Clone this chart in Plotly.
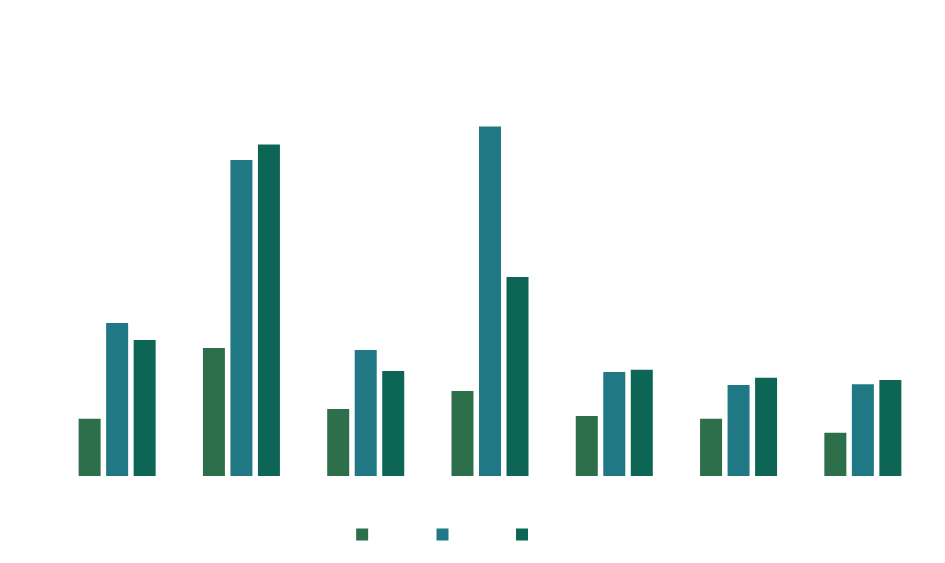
import plotly.graph_objects as go

categories = ["A", "B", "C", "D", "E", "F", "G"]
series_names = ["Type A", "Type B", "Type C"]
series_1 = [12.7, 28.4, 14.9, 18.9, 13.3, 12.7, 9.6]
series_2 = [34.0, 70.2, 28.0, 77.6, 23.1, 20.2, 20.4]
series_3 = [30.2, 73.6, 23.3, 44.2, 23.6, 21.8, 21.3]
colors = ["#2d6e4b", "#1f7884", "#0d6655"]

fig = go.Figure()
for name, vals, col in zip(series_names, [series_1, series_2, series_3], colors):
    fig.add_trace(go.Bar(x=categories, y=vals, name=name, marker_color=col,
                         marker_line_width=0))

fig.update_layout(
    width=945, height=563,
    paper_bgcolor="white", plot_bgcolor="white",
    barmode="group", bargap=0.336, bargroupgap=0.2,
    margin=dict(l=47, r=28, t=92, b=95),
    font=dict(family="Noto Sans", size=12, color="white"),
    title=dict(text="Chart", font=dict(color="white")),
    showlegend=True,
    legend=dict(orientation="h", x=0.468, xanchor="center", y=-0.117, yanchor="top",
                font=dict(color="white", size=11)),
    xaxis=dict(showgrid=False, showline=False, tickfont=dict(color="white")),
    yaxis=dict(range=[0, 83.5], dtick=10, showgrid=True, gridcolor="white",
               zeroline=False, showline=False, tickfont=dict(color="white")),
)

fig.write_html("out.html")
